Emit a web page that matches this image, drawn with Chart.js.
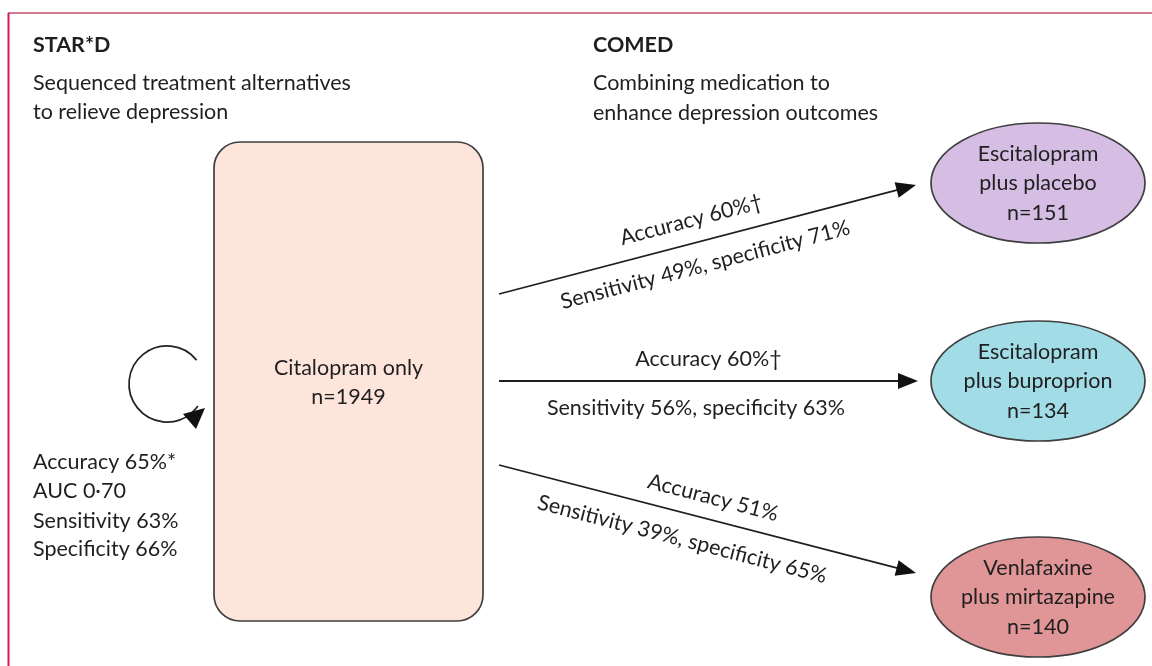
<!DOCTYPE html>
<html>
<head>
<meta charset="utf-8">
<script src="https://cdn.jsdelivr.net/npm/chart.js@4"></script>
<style>
  body { margin: 0; background: #fff; }
  #wrap { width: 1152px; height: 666px; }
</style>
</head>
<body>
<div id="wrap"><canvas id="myChart" width="1152" height="666"></canvas></div>
<script>
// data
const armNames = [['Escitalopram', 'plus placebo'], ['Escitalopram', 'plus buproprion'], ['Venlafaxine', 'plus mirtazapine']];
const armN = [151, 134, 140];
const armAccuracy = [60, 60, 51];
const armAccuracyMark = ['†', '†', ''];
const armSensitivity = [49, 56, 39];
const armSpecificity = [71, 63, 65];
const armColors = ['#d5bde3', '#a2dce6', '#e09597'];

const stardName = 'Citalopram only';
const stardN = 1949;
const stardAccuracy = 65;
const stardAuc = '0·70';
const stardSensitivity = 63;
const stardSpecificity = 66;

// layout (in page units, mapped through the chart scales)
const arrowStart = [[499, 294], [499, 381], [499, 465]];
const arrowEnd = [[916, 185], [918, 381], [916, 573]];
const accPos = [[0.475, -23], [0.50, -22], [0.50, -22]];
const sensPos = [[0.48, 24], [0.47, 27], [0.455, 26]];
const ellipseCenter = [[1038, 183], [1038, 381], [1038, 597]];
const ellipseRadius = [107, 60];
const boxRect = [214, 142, 483, 621];

const font = '"Lato", "Open Sans", sans-serif';
const fontSize = '21.5px ';
const ink = '#1f1f1f';

let diagramPlugin = {
    id: 'diagram',
    beforeDatasetsDraw(chart) {
        const c = chart.ctx;
        const x = v => chart.scales.x.getPixelForValue(v);
        const y = v => chart.scales.y.getPixelForValue(v);

        // frame
        c.save();
        c.strokeStyle = '#d47a91';
        c.lineWidth = 2;
        c.beginPath(); c.moveTo(x(8), y(13)); c.lineTo(x(1152), y(13)); c.stroke();
        c.strokeStyle = '#cf1c4c';
        c.beginPath(); c.moveTo(x(8.5), y(13)); c.lineTo(x(8.5), y(666)); c.stroke();

        // citalopram box
        c.fillStyle = '#fde5dc';
        c.strokeStyle = '#3f3f3f';
        c.lineWidth = 1.7;
        c.beginPath();
        c.roundRect(x(boxRect[0]), y(boxRect[1]), x(boxRect[2]) - x(boxRect[0]), y(boxRect[3]) - y(boxRect[1]), 26);
        c.fill(); c.stroke();

        // ellipses
        for (let i = 0; i < armNames.length; i++) {
            c.fillStyle = armColors[i];
            c.beginPath();
            c.ellipse(x(ellipseCenter[i][0]), y(ellipseCenter[i][1]), ellipseRadius[0], ellipseRadius[1], 0, 0, Math.PI * 2);
            c.fill(); c.stroke();
        }

        // circular arrow
        c.strokeStyle = '#222';
        c.lineWidth = 1.7;
        c.beginPath();
        c.arc(x(167), y(384), 38, -0.68, 0.62, true);
        c.stroke();
        c.fillStyle = '#111';
        c.beginPath();
        c.moveTo(x(183), y(414)); c.lineTo(x(205), y(408)); c.lineTo(x(196), y(429));
        c.closePath(); c.fill();
        c.restore();
    },
    afterDatasetsDraw(chart) {
        const c = chart.ctx;
        const x = v => chart.scales.x.getPixelForValue(v);
        const y = v => chart.scales.y.getPixelForValue(v);
        c.save();
        c.fillStyle = ink;
        c.textBaseline = 'middle';

        // arrowheads and arrow labels
        for (let i = 0; i < arrowStart.length; i++) {
            const x0 = x(arrowStart[i][0]), y0 = y(arrowStart[i][1]);
            const x1 = x(arrowEnd[i][0]), y1 = y(arrowEnd[i][1]);
            const a = Math.atan2(y1 - y0, x1 - x0);
            c.save();
            c.translate(x1, y1);
            c.rotate(a);
            c.fillStyle = '#111';
            c.beginPath();
            c.moveTo(0, 0); c.lineTo(-20, -8); c.lineTo(-20, 8);
            c.closePath(); c.fill();
            c.restore();

            const len = Math.hypot(x1 - x0, y1 - y0);
            const labels = [
                ['Accuracy ' + armAccuracy[i] + '%' + armAccuracyMark[i], accPos[i]],
                ['Sensitivity ' + armSensitivity[i] + '%, specificity ' + armSpecificity[i] + '%', sensPos[i]]
            ];
            labels.forEach(([txt, p]) => {
                c.save();
                c.translate(x0, y0);
                c.rotate(a);
                c.font = fontSize + font;
                c.textAlign = 'center';
                c.fillText(txt, p[0] * len, p[1]);
                c.restore();
            });
        }

        // ellipse labels
        c.textAlign = 'center';
        c.font = fontSize + font;
        for (let i = 0; i < armNames.length; i++) {
            const cx = x(ellipseCenter[i][0]), cy = y(ellipseCenter[i][1]);
            c.fillText(armNames[i][0], cx, cy - 29);
            c.fillText(armNames[i][1], cx, cy);
            c.fillText('n=' + armN[i], cx, cy + 30);
        }

        // box label
        const bx = (x(boxRect[0]) + x(boxRect[2])) / 2;
        c.fillText(stardName, bx, y(368));
        c.fillText('n=' + stardN, bx, y(397));

        // headings
        c.textAlign = 'left';
        c.font = 'bold ' + fontSize + font;
        c.fillText('STAR*D', x(33), y(45));
        c.fillText('COMED', x(593), y(45));
        c.font = fontSize + font;
        c.fillText('Sequenced treatment alternatives', x(33), y(83));
        c.fillText('to relieve depression', x(33), y(112));
        c.fillText('Combining medication to', x(593), y(83));
        c.fillText('enhance depression outcomes', x(593), y(113));

        // STAR*D metrics
        c.fillText('Accuracy ' + stardAccuracy + '%*', x(33), y(462));
        c.fillText('AUC ' + stardAuc, x(33), y(491));
        c.fillText('Sensitivity ' + stardSensitivity + '%', x(33), y(521));
        c.fillText('Specificity ' + stardSpecificity + '%', x(33), y(549));
        c.restore();
    }
};

let arrowSets = arrowStart.map((s, i) => {
    const a = Math.atan2(arrowEnd[i][1] - s[1], arrowEnd[i][0] - s[0]);
    return {
        data: [{ x: s[0], y: s[1] }, { x: arrowEnd[i][0] - 15 * Math.cos(a), y: arrowEnd[i][1] - 15 * Math.sin(a) }],
        showLine: true,
        borderColor: '#1e1e1e',
        borderWidth: 1.8,
        pointRadius: 0
    };
});

let ctx = document.getElementById('myChart').getContext('2d');
let myChart = new Chart(ctx, {
    type: 'scatter',
    data: { datasets: arrowSets },
    options: {
        responsive: false,
        animation: false,
        layout: { padding: 0 },
        scales: {
            x: { type: 'linear', min: 0, max: 1152, display: false },
            y: { type: 'linear', min: 0, max: 666, reverse: true, display: false }
        },
        plugins: {
            legend: { display: false },
            tooltip: { enabled: false }
        }
    },
    plugins: [diagramPlugin]
});
</script>
</body>
</html>
